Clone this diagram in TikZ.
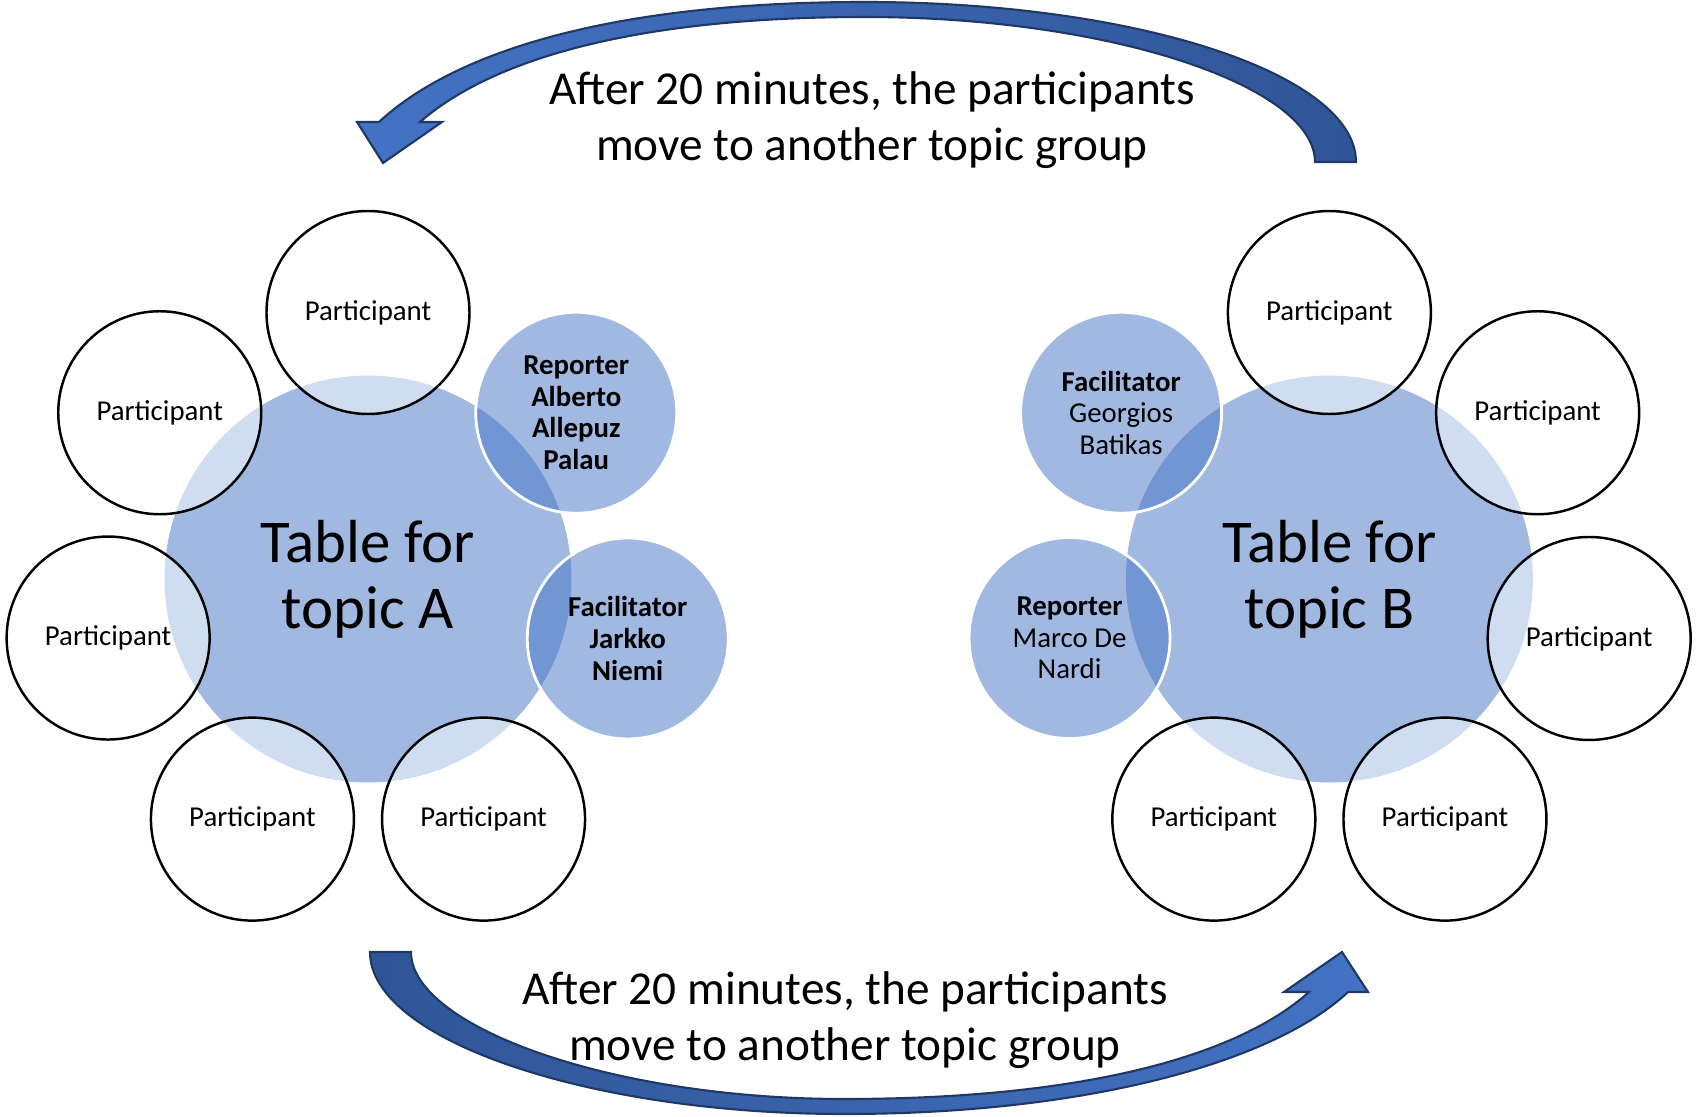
\documentclass[tikz,border=0pt]{standalone}
\usepackage{fontspec}
\setmainfont{Carlito}
\usetikzlibrary{positioning}

\definecolor{topicblue}{HTML}{4472C4}
\definecolor{arrowdark}{HTML}{2F5597}
\definecolor{arrowedge}{HTML}{1F3864}

\begin{document}
\begin{tikzpicture}[
    table/.style={circle, fill=topicblue, fill opacity=0.5, text opacity=1, minimum size=4.07cm, inner sep=0pt, align=center, font=\fontsize{17.3}{18.8}\selectfont},
    role/.style={circle, fill=topicblue, fill opacity=0.5, text opacity=1, draw=white, line width=0.8pt, minimum size=2.01cm, inner sep=0pt, align=center, font=\fontsize{8.2}{9}\selectfont},
    rolebold/.style={role, font=\fontsize{8.2}{9}\selectfont\bfseries},
    part/.style={circle, fill=white, fill opacity=0.5, text opacity=1, draw=black, line width=0.7pt, minimum size=2.03cm, inner sep=0pt, font=\fontsize{8.2}{9}\selectfont},
    turn/.style={draw=arrowedge, line width=0.6pt, line join=miter},
    move/.style={align=center, font=\fontsize{13.45}{15.9}\selectfont}
  ]
    \useasboundingbox (0,0) rectangle (16.96,11.16);

    \node[table] (tabA) at (3.68,5.37) {Table for\\topic A};
    \node[table, right = 5.53cm of tabA] (tabB) {Table for\\topic B};

    \node[rolebold] (repA) at ([shift={(38.6:2.665)}]tabA) {Reporter\\Alberto\\Allepuz\\Palau};
    \node[rolebold] (facA) at ([shift={(-12.9:2.665)}]tabA) {Facilitator\\Jarkko\\Niemi};
    \node[role] (facB) at ([shift={(141.4:2.665)}]tabB) {\textbf{Facilitator}\\Georgios\\Batikas};
    \node[role] (repB) at ([shift={(192.8:2.665)}]tabB) {\textbf{Reporter}\\Marco De\\Nardi};

    \node[part] (pA1) at ([shift={(90:2.665)}]tabA) {Participant};
    \node[part] (pA2) at ([shift={(141.4:2.665)}]tabA) {Participant};
    \node[part] (pA3) at ([shift={(192.8:2.665)}]tabA) {Participant};
    \node[part] (pA4) at ([shift={(244.3:2.665)}]tabA) {Participant};
    \node[part] (pA5) at ([shift={(295.7:2.665)}]tabA) {Participant};

    \node[part] (pB1) at ([shift={(90:2.665)}]tabB) {Participant};
    \node[part] (pB2) at ([shift={(38.6:2.665)}]tabB) {Participant};
    \node[part] (pB3) at ([shift={(-12.9:2.665)}]tabB) {Participant};
    \node[part] (pB4) at ([shift={(-64.3:2.665)}]tabB) {Participant};
    \node[part] (pB5) at ([shift={(-115.7:2.665)}]tabB) {Participant};

    \draw[turn, left color=topicblue, right color=arrowdark]
      (13.15,9.54) -- (13.56,9.54) .. controls (13.56,10.42) and (11.36,11.14) .. (8.65,11.14)
      .. controls (6.0,11.14) and (4.5,10.6) .. (3.79,9.94) -- (3.57,9.94) -- (3.83,9.53) -- (4.42,9.94) -- (4.20,9.94)
      .. controls (4.9,10.55) and (6.3,10.99) .. (8.65,10.99) .. controls (11.1,10.99) and (13.15,10.3) .. (13.15,9.54) -- cycle;
    \draw[turn, left color=arrowdark, right color=topicblue]
      (3.70,1.64) .. controls (3.70,0.76) and (5.9,0.02) .. (8.44,0.02)
      .. controls (10.9,0.02) and (12.75,0.55) .. (13.48,1.24) -- (13.68,1.24) -- (13.42,1.64) -- (12.84,1.24) -- (13.09,1.24)
      .. controls (12.4,0.62) and (10.9,0.17) .. (8.44,0.17) .. controls (6.1,0.17) and (4.11,0.9) .. (4.11,1.64) -- cycle;

    \node[move] (txtTop) at (8.72,9.96) {After 20 minutes, the participants\\move to another topic group};
    \node[move] (txtBot) at (8.45,0.96) {After 20 minutes, the participants\\move to another topic group};
\end{tikzpicture}
\end{document}
